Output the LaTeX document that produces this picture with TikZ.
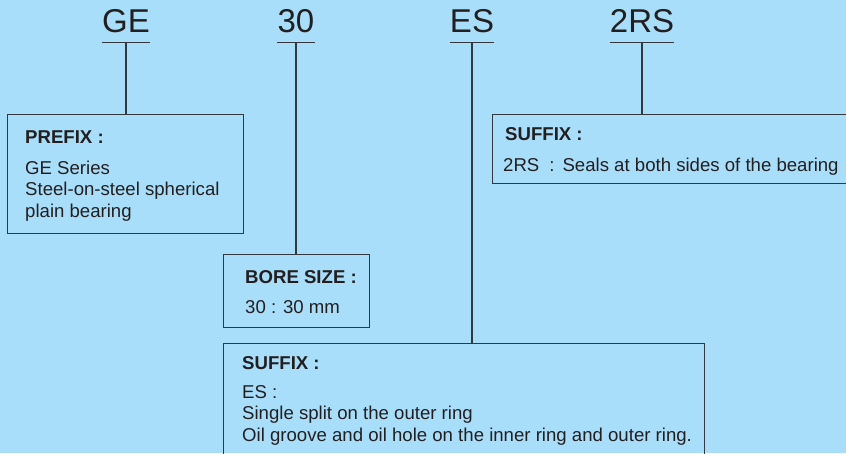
\documentclass[tikz,border=0pt]{standalone}
\usepackage{fontspec}
\setmainfont{Liberation Sans}
\usetikzlibrary{positioning,calc}
\definecolor{codesky}{RGB}{169,222,250}
\definecolor{codeink}{RGB}{35,31,32}
\definecolor{codeline}{RGB}{52,56,62}

\begin{document}
\begin{tikzpicture}[
      x=1pt,y=-1pt,
      code/.style={
        font=\fontsize{33}{36}\selectfont,
        text=codeink,
        anchor=base,
        inner xsep=0pt,
        inner ysep=10pt,
        text depth=0pt
      },
      box/.style={
        draw=codeline,
        line width=1.2pt,
        anchor=north west,
        inner sep=0pt
      },
      head/.style={font=\fontsize{18.6}{21.7}\selectfont\bfseries,text=codeink,anchor=base west,inner sep=0pt},
      body/.style={font=\fontsize{18.6}{21.7}\selectfont,text=codeink,anchor=base west,inner sep=0pt,align=left},
      rule/.style={draw=codeline,line width=1.2pt}
    ]
      \useasboundingbox (0,0) rectangle (846,453);
      \fill[codesky] (0,0) rectangle (846,453);
      \clip (0,0) rectangle (846,453);
      % designation parts
      \node[code] (ge) at (126,32) {GE};
      \node[code] (bore) at (296,32) {30};
      \node[code] (split) at (472,32) {ES};
      \node[code] (seal) at (642,32) {2RS};
      \foreach \part in {ge,bore,split,seal}
        \draw[rule] (\part.south west) -- (\part.south east);
      % explanation boxes
      \node[box,minimum width=236,minimum height=119] (prefixbox) at (7,114) {};
      \node[box,minimum width=146,minimum height=73] (borebox) at (223,254) {};
      \node[box,minimum width=380,minimum height=69] (sealbox) at (492,114) {};
      \node[box,minimum width=481,minimum height=140] (splitbox) at (223,343) {};
      \draw[rule] (ge.south) -- (ge.south |- prefixbox.north);
      \draw[rule] (bore.south) -- (bore.south |- borebox.north);
      \draw[rule] (split.south) -- (split.south |- splitbox.north);
      \draw[rule] (seal.south) -- (seal.south |- sealbox.north);
      % box texts (multi-line nodes sit on their last line)
      \node[head] (prefixhead) at ([shift={(18,29)}]prefixbox.north west) {PREFIX :};
      \node[body] (prefixtext) at ([shift={(0,74.4)}]prefixhead.base west) {GE Series\\Steel-on-steel spherical\\plain bearing};
      \node[head] (borehead) at ([shift={(22,29)}]borebox.north west) {BORE SIZE :};
      \node[body] (boretext) at ([shift={(0,30)}]borehead.base west) {30 : 30 mm};
      \node[head] (sealhead) at ([shift={(13,26)}]sealbox.north west) {SUFFIX :};
      \node[body] (sealtext) at ([shift={(-2,31)}]sealhead.base west) {2RS\hspace{10pt}:\hspace{8pt}Seals at both sides of the bearing};
      \node[head] (splithead) at ([shift={(19,26)}]splitbox.north west) {SUFFIX :};
      \node[body] (splittext) at ([shift={(0,72.4)}]splithead.base west) {ES :\\Single split on the outer ring\\Oil groove and oil hole on the inner ring and outer ring.};
    \end{tikzpicture}
\end{document}
